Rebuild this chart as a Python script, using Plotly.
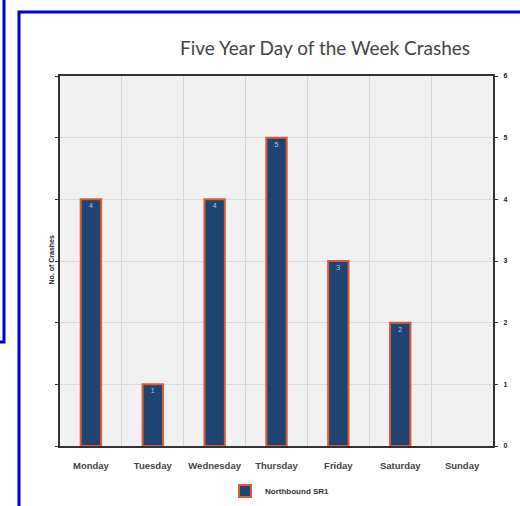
import plotly.graph_objects as go

days = ["Monday", "Tuesday", "Wednesday", "Thursday", "Friday", "Saturday", "Sunday"]
crashes = [4, 1, 4, 5, 3, 2, 0]
series_name = "Northbound SR1"
title_text = "Five Year Day of the Week Crashes"
y_title = "No. of Crashes"

W, H = 520, 506
L, R, T, B = 60, 27, 76, 60
PW, PH = W - L - R, H - T - B


def px(x):
    return (x - L) / PW


def py(y):
    return (H - B - y) / PH


fig = go.Figure()
fig.add_trace(go.Bar(
    x=days, y=crashes, name=series_name,
    width=0.33,
    marker=dict(color="#1F4471",
                line=dict(color="#DE5A32", width=[2 if v else 0 for v in crashes])),
    text=[str(v) if v else "" for v in crashes],
    textposition="inside", insidetextanchor="end", textangle=0,
    textfont=dict(size=7, color="#A8C8EC", family="Liberation Sans"),
    showlegend=True,
))

fig.update_layout(
    width=W, height=H,
    margin=dict(l=L, r=R, t=T, b=B, autoexpand=False),
    paper_bgcolor="white",
    plot_bgcolor="#F1F1F1",
    title=dict(text=title_text, xref="paper", x=px(325), xanchor="center",
               yref="container", y=1 - 48 / H, yanchor="middle",
               font=dict(family="Lato", size=19, color="#444444")),
    xaxis=dict(tickson="boundaries", showgrid=True, gridcolor="#D6D6D6", gridwidth=1,
               ticks="", showline=True, linecolor="#333333", linewidth=2, mirror=True,
               ticklabelstandoff=10, tickangle=0, automargin=False,
               tickfont=dict(family="Liberation Sans", size=9.5, color="#444444",
                             weight="bold")),
    yaxis=dict(range=[0, 6], dtick=1, side="right", showgrid=True, gridcolor="#DADADA",
               ticks="outside", ticklen=3, tickcolor="#333333", zeroline=False,
               showline=True, linecolor="#333333", linewidth=2, mirror="allticks",
               ticklabelstandoff=4, automargin=False,
               tickfont=dict(family="Liberation Sans", size=7, color="#222222",
                             weight="bold")),
    legend=dict(orientation="h", x=px(280), xanchor="center", y=py(491), yanchor="middle",
                font=dict(family="Liberation Sans", size=8, color="#333333",
                          weight="bold"),
                itemwidth=30),
    annotations=[dict(text=y_title, textangle=-90, xref="paper", yref="paper",
                      x=px(45), y=py(260), showarrow=False,
                      font=dict(family="Liberation Sans", size=7, color="#222222",
                                weight="bold"))],
    shapes=[
        dict(type="rect", xref="paper", yref="paper",
             x0=px(19), x1=px(620), y0=py(620), y1=py(12),
             line=dict(color="#0000D8", width=3), layer="above"),
        dict(type="rect", xref="paper", yref="paper",
             x0=px(-60), x1=px(4), y0=py(342), y1=py(-60),
             line=dict(color="#0000D8", width=3), layer="above"),
    ],
)

fig.write_html("out.html", config={"displayModeBar": False},
               post_script="document.body.style.margin='0';document.body.style.overflow='hidden';")
